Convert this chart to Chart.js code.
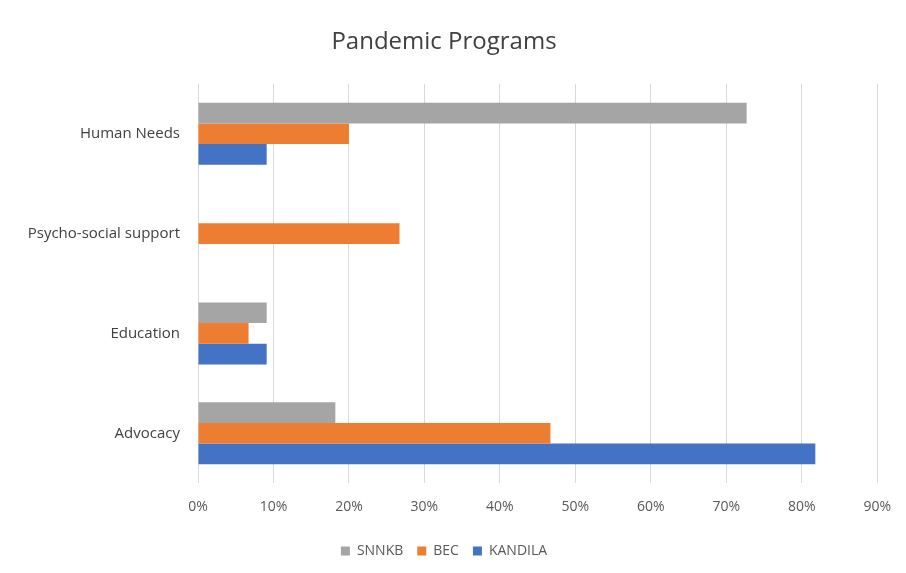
<!DOCTYPE html>
<html lang="en">
<head>
    <meta charset="UTF-8">
    <title>Pandemic Programs</title>
    <script src="https://cdn.jsdelivr.net/npm/chart.js"></script>
    <style>
        html, body { margin: 0; padding: 0; background: #fff; }
        .box { width: 906px; height: 573px; }
    </style>
</head>
<body>
    <div class="box">
        <canvas id="myChart" width="906" height="573"></canvas>
    </div>
<script>
    // dados (em %)
    const categorias = ['Human Needs', 'Psycho-social support', 'Education', 'Advocacy'];
    const snnkb = [72.7, 0, 9.1, 18.2];
    const bec = [20.0, 26.7, 6.7, 46.7];
    const kandila = [9.1, 0, 9.1, 81.8];
    const ticksX = [0, 10, 20, 30, 40, 50, 60, 70, 80, 90];

    const fonte = "'Open Sans', 'Liberation Sans', sans-serif";

    const chartData = {
        labels: categorias,
        datasets: [
            { label: 'SNNKB', data: snnkb, backgroundColor: '#a5a5a5' },
            { label: 'BEC', data: bec, backgroundColor: '#ed7d31' },
            { label: 'KANDILA', data: kandila, backgroundColor: '#4472c4' }
        ]
    }

    const options = {
        indexAxis: 'y',
        responsive: false,
        animation: false,
        datasets: { bar: { categoryPercentage: 0.62, barPercentage: 1 } },
        layout: { padding: { left: 0, right: 18, top: 10, bottom: 5 } },
        plugins: {
            title: {
                display: true,
                text: 'Pandemic Programs',
                color: '#404040',
                font: { family: fonte, size: 24, weight: 'normal' },
                padding: { top: 18, bottom: 27 }
            },
            legend: {
                position: 'bottom',
                labels: {
                    color: '#595959',
                    font: { family: fonte, size: 14 },
                    boxWidth: 9,
                    boxHeight: 9,
                    padding: 14
                }
            },
            tooltip: { enabled: false }
        },
        scales: {
            x: {
                min: 0,
                max: 90,
                afterBuildTicks: function (s) { s.ticks = ticksX.map(v => ({ value: v })); },
                ticks: {
                    color: '#595959',
                    font: { family: fonte, size: 14 },
                    padding: 15,
                    callback: function (v) { return v + '%'; }
                },
                grid: { color: '#d9d9d9', drawTicks: false },
                border: { display: false }
            },
            y: {
                afterFit: function (s) { s.width = 198; },
                ticks: {
                    color: '#404040',
                    font: { family: fonte, size: 15 },
                    padding: 18
                },
                grid: { display: false, drawTicks: false },
                border: { display: false }
            }
        }
    }

    const myChart = new Chart(document.getElementById('myChart'), {
        type: 'bar',
        data: chartData,
        options: options
    })
</script>
</body>
</html>
